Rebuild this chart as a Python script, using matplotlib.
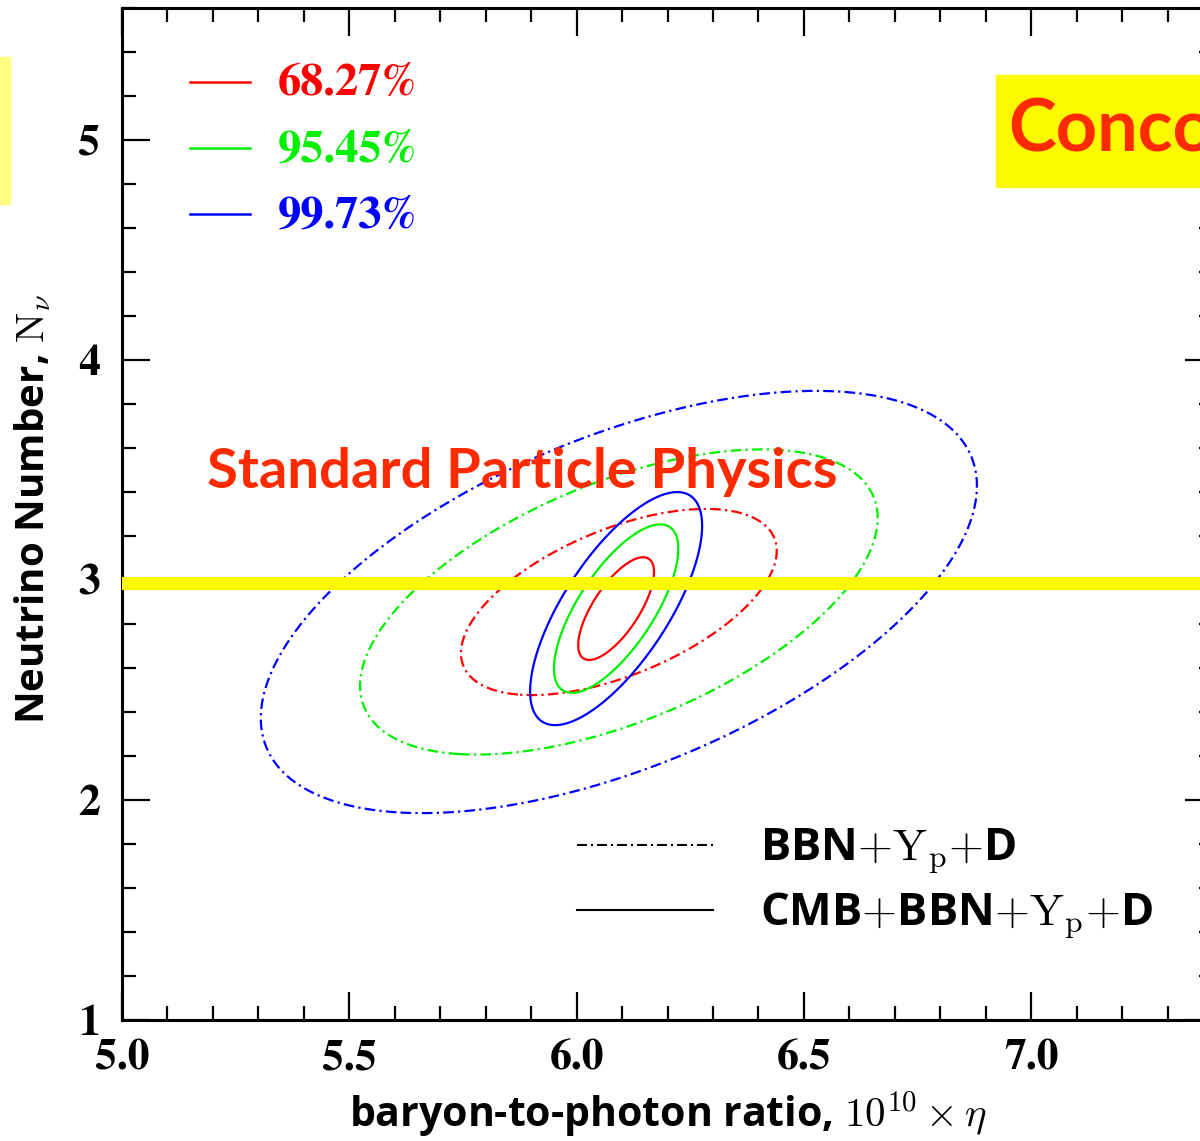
"""Neutrino number vs baryon-to-photon ratio: BBN and CMB+BBN confidence contours."""
import numpy as np
import matplotlib
matplotlib.use("Agg")
import matplotlib.pyplot as plt
from matplotlib.patches import Rectangle
from matplotlib.ticker import MultipleLocator, FuncFormatter

plt.rcParams["mathtext.fontset"] = "cm"
plt.rcParams["font.family"] = ["Open Sans", "DejaVu Sans"]

# --- data ------------------------------------------------------------------
# 2D Gaussian approximation of each likelihood: centre, sigmas, correlation
bbn_center = [6.093, 2.90]
bbn_sigma = [0.229, 0.279]
bbn_rho = 0.55

cmb_center = [6.087, 2.87]
cmb_sigma = [0.055, 0.154]
cmb_rho = 0.71

cl_labels = ["68.27%", "95.45%", "99.73%"]
cl_dchi2 = [2.30, 6.18, 11.83]          # 2-parameter delta chi^2
cl_colors = ["#ff0000", "#00f000", "#0000ff"]

dataset_labels = [r"BBN$+$$\mathrm{Y_p}$$+$D", r"CMB$+$BBN$+$$\mathrm{Y_p}$$+$D"]

standard_nnu = 2.985
xlim = [5.0, 7.4]
ylim = [1.0, 5.6]
xticks_major = [5.0, 5.5, 6.0, 6.5, 7.0]
yticks_major = [1, 2, 3, 4, 5]

DASHDOT = (0, (4.8, 1.9, 1.0, 1.9))
SERIF_BOLD = dict(family=["STIXGeneral", "DejaVu Serif"], fontweight="bold")
HEAVY = ["Lato", "DejaVu Sans"]


def chi2(X, Y, center, sigma, rho):
    dx = (X - center[0]) / sigma[0]
    dy = (Y - center[1]) / sigma[1]
    return (dx ** 2 - 2 * rho * dx * dy + dy ** 2) / (1 - rho ** 2)


fig = plt.figure(figsize=(12, 11.41), dpi=100)
ax = fig.add_axes([122 / 1200, 121 / 1141, (1213 - 122) / 1200, (1020 - 8) / 1141])

gx = np.linspace(xlim[0], xlim[1], 800)
gy = np.linspace(ylim[0], ylim[1], 800)
X, Y = np.meshgrid(gx, gy)

cs_bbn = ax.contour(X, Y, chi2(X, Y, bbn_center, bbn_sigma, bbn_rho),
                    levels=cl_dchi2, colors=cl_colors, linewidths=1.6)
cs_bbn.set_linestyle([DASHDOT])
ax.contour(X, Y, chi2(X, Y, cmb_center, cmb_sigma, cmb_rho),
           levels=cl_dchi2, colors=cl_colors, linewidths=1.6, linestyles="solid")

# standard model value
ax.axhline(standard_nnu, color="#fdf900", linewidth=9.4, zorder=5)

ax.text(5.88, 3.49, "Standard Particle Physics", color="#ff2a00", fontsize=40.5,
        fontweight="bold", family=HEAVY, ha="center", va="center", zorder=6)

# confidence-level legend (top left)
for i, (lab, col) in enumerate(zip(cl_labels, cl_colors)):
    yy = 0.927 - i * 0.0652
    ax.plot([0.0623, 0.1173], [yy, yy], color=col, lw=1.8, transform=ax.transAxes)
    ax.text(0.143, yy - 0.003, lab, color=col, fontsize=33.5, transform=ax.transAxes,
            va="center", ha="left", **SERIF_BOLD)

# data-set legend (bottom right)
for i, (lab, ls) in enumerate(zip(dataset_labels, [DASHDOT, "solid"])):
    yy = 0.1729 - i * 0.0642
    ax.plot([0.4170, 0.5417], [yy, yy], color="black", lw=1.5, linestyle=ls,
            transform=ax.transAxes)
    ax.text(0.5848, yy - 0.006, lab, fontsize=32.5, fontweight="bold",
            transform=ax.transAxes, va="center", ha="left")

ax.set_xlim(xlim)
ax.set_ylim(ylim)
ax.set_xticks(xticks_major)
ax.set_yticks(yticks_major)
ax.xaxis.set_minor_locator(MultipleLocator(0.1))
ax.yaxis.set_minor_locator(MultipleLocator(0.2))
ax.xaxis.set_major_formatter(FuncFormatter(lambda v, p: "%.1f" % v))
ax.yaxis.set_major_formatter(FuncFormatter(lambda v, p: "%d" % v))
ax.tick_params(which="both", direction="in", top=True, right=True, width=1.6,
               labelsize=31.5)
ax.tick_params(which="major", length=20)
ax.tick_params(axis="x", which="major", pad=14)
ax.tick_params(axis="y", which="major", pad=16)
ax.tick_params(which="minor", length=10)
for lab in ax.get_xticklabels() + ax.get_yticklabels():
    lab.set_family(SERIF_BOLD["family"])
    lab.set_fontweight("bold")
for sp in ax.spines.values():
    sp.set_linewidth(2.2)

ax.set_xlabel(r"baryon-to-photon ratio, $10^{10}\times\eta$", fontsize=29.5,
              fontweight="bold", va="center")
ax.xaxis.set_label_coords(0.5, -0.094)
ax.set_ylabel(r"Neutrino Number, $\mathrm{N}_\nu$", fontsize=29,
              fontweight="bold", va="center")
ax.yaxis.set_label_coords(-0.0815, 0.505)

# overlay boxes (cropped slide annotations)
fig.patches.append(Rectangle((0, 1 - 204 / 1141), 10 / 1200, 147 / 1141,
                             transform=fig.transFigure, color="#fffd80", zorder=0))
fig.patches.append(Rectangle((996 / 1200, 1 - 187 / 1141), 0.2, 112 / 1141,
                             transform=fig.transFigure, color="#fdf900", zorder=10))
fig.text(1008 / 1200, 1 - 130 / 1141, "Concordance", color="#ff2a00", fontsize=52,
         fontweight="bold", family=HEAVY, va="center", ha="left", zorder=11)

fig.savefig("out.png", dpi=100)
